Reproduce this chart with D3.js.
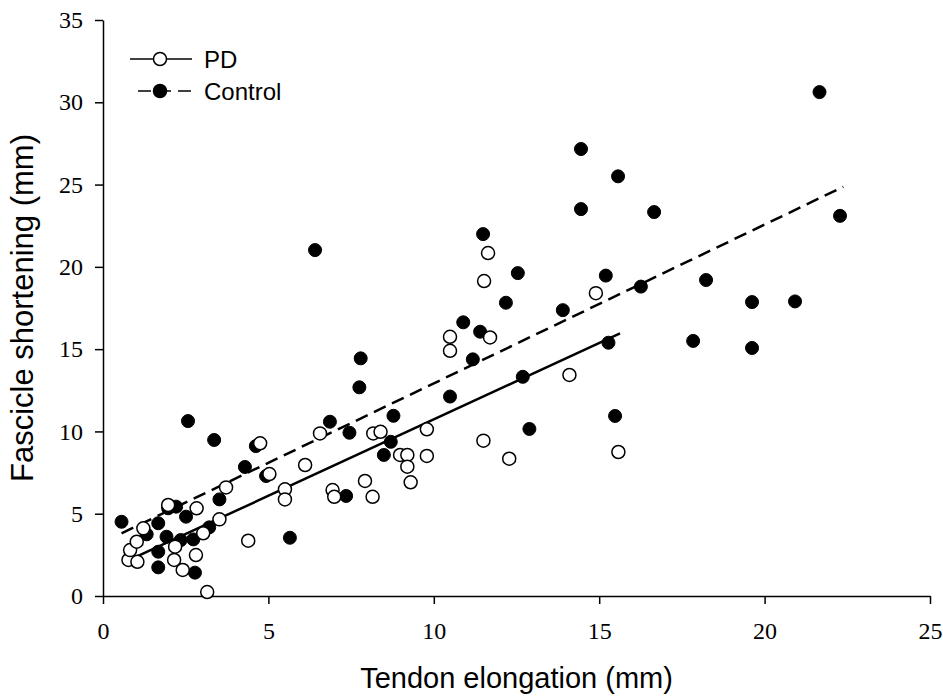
<!DOCTYPE html>
<html>
<head>
<meta charset="utf-8">
<script src="https://cdn.jsdelivr.net/npm/d3@7"></script>
<style>
  body { margin: 0; background: #fff; }
  svg { display: block; }
</style>
</head>
<body>
<div id="chart"></div>
<script>
// PD group (open circles): [tendon elongation, fascicle shortening]
const pdPoints = [
  [0.77, 2.19], [0.82, 2.79], [1.04, 2.08], [1.02, 3.3], [1.22, 4.11],
  [1.97, 5.53], [2.83, 5.33], [2.18, 3.0], [2.15, 2.19], [2.41, 1.58],
  [2.81, 2.49], [3.03, 3.81], [3.52, 4.66], [3.72, 6.6], [4.39, 3.36],
  [3.15, 0.24], [4.75, 9.28], [5.03, 7.41], [5.5, 6.48], [5.5, 5.87],
  [6.11, 7.96], [6.56, 9.88], [6.94, 6.44], [6.99, 6.03], [7.92, 6.99],
  [8.15, 6.03], [8.17, 9.88], [8.39, 9.98], [8.98, 8.57], [9.2, 8.57],
  [9.2, 7.86], [9.3, 6.91], [9.79, 10.13], [9.79, 8.51], [10.49, 15.75],
  [10.49, 14.9], [11.52, 19.14], [11.64, 20.84], [11.7, 15.71], [11.5, 9.44],
  [12.28, 8.34], [14.1, 13.43], [14.9, 18.4], [15.58, 8.75]
];

// Control group (filled circles)
const controlPoints = [
  [0.56, 4.51], [1.32, 3.75], [1.67, 4.42], [1.92, 3.6], [1.97, 5.33],
  [2.21, 5.43], [2.51, 4.82], [2.35, 3.4], [2.73, 3.44], [1.67, 2.69],
  [1.67, 1.74], [2.78, 1.42], [3.21, 4.17], [3.52, 5.87], [2.57, 10.63],
  [3.36, 9.48], [4.29, 7.84], [4.62, 9.11], [4.93, 7.29], [5.65, 3.54],
  [6.41, 21.02], [6.86, 10.59], [7.35, 6.08], [7.45, 9.92], [7.75, 12.68],
  [7.79, 14.44], [8.49, 8.57], [8.7, 9.37], [8.78, 10.95], [10.49, 12.12],
  [10.89, 16.63], [11.18, 14.38], [11.4, 16.06], [11.49, 21.99], [12.18, 17.82],
  [12.54, 19.62], [12.69, 13.32], [12.89, 10.15], [13.9, 17.37], [14.45, 27.16],
  [14.45, 23.51], [15.2, 19.47], [15.28, 15.39], [15.48, 10.94], [15.57, 25.5],
  [16.26, 18.8], [16.66, 23.33], [17.84, 15.5], [18.23, 19.2], [19.62, 17.86],
  [19.62, 15.07], [20.92, 17.9], [21.66, 30.62], [22.28, 23.1]
];

// regression lines: [slope, intercept, xStart, xEnd]
const pdFit = [0.9285, 1.447, 0.8, 15.63];
const controlFit = [0.965, 3.27, 0.56, 22.38];

const seriesNames = ["PD", "Control"];
const xTicks = [0, 5, 10, 15, 20, 25];
const yTicks = [0, 5, 10, 15, 20, 25, 30, 35];

const width = 943, height = 697;
const margin = { top: 20, right: 13, bottom: 101, left: 103 };
const dashPattern = "13,7";

const svg = d3.select("#chart").append("svg")
  .attr("width", width)
  .attr("height", height);

const x = d3.scaleLinear().domain([0, 25]).range([margin.left, width - margin.right]);
const y = d3.scaleLinear().domain([0, 35]).range([height - margin.bottom, margin.top]);

// axes
const xAxis = svg.append("g")
  .attr("transform", `translate(0,${y(0)})`)
  .call(d3.axisBottom(x).tickValues(xTicks).tickSize(8).tickPadding(18).tickSizeOuter(0));

const yAxis = svg.append("g")
  .attr("transform", `translate(${x(0)},0)`)
  .call(d3.axisLeft(y).tickValues(yTicks).tickSize(8).tickPadding(12).tickSizeOuter(0));

[xAxis, yAxis].forEach((a) => {
  a.selectAll("path, line").attr("stroke", "#000").attr("stroke-width", 1.5);
  a.selectAll("text")
    .attr("fill", "#000")
    .style("font-family", "'Liberation Serif', 'Times New Roman', serif")
    .style("font-size", "24px");
});

// axis titles
svg.append("text")
  .attr("x", x(12.5))
  .attr("y", 688)
  .attr("text-anchor", "middle")
  .style("font-family", "'Liberation Sans', Arial, sans-serif")
  .style("font-size", "29px")
  .text("Tendon elongation (mm)");

svg.append("text")
  .attr("transform", `translate(33,${y(17.5)}) rotate(-90)`)
  .attr("text-anchor", "middle")
  .style("font-family", "'Liberation Sans', Arial, sans-serif")
  .style("font-size", "31px")
  .text("Fascicle shortening (mm)");

// regression lines
function fitLine(fit) {
  return [[fit[2], fit[0] * fit[2] + fit[1]], [fit[3], fit[0] * fit[3] + fit[1]]];
}
const line = d3.line().x((d) => x(d[0])).y((d) => y(d[1]));

svg.append("path")
  .attr("d", line(fitLine(controlFit)))
  .attr("fill", "none")
  .attr("stroke", "#000")
  .attr("stroke-width", 2.5)
  .attr("stroke-dasharray", dashPattern);

svg.append("path")
  .attr("d", line(fitLine(pdFit)))
  .attr("fill", "none")
  .attr("stroke", "#000")
  .attr("stroke-width", 2.5);

// points
const r = 6.5;
svg.append("g").selectAll("circle")
  .data(controlPoints)
  .enter()
  .append("circle")
  .attr("cx", (d) => x(d[0]))
  .attr("cy", (d) => y(d[1]))
  .attr("r", r)
  .attr("fill", "#000")
  .attr("stroke", "#000")
  .attr("stroke-width", 1);

svg.append("g").selectAll("circle")
  .data(pdPoints)
  .enter()
  .append("circle")
  .attr("cx", (d) => x(d[0]))
  .attr("cy", (d) => y(d[1]))
  .attr("r", r)
  .attr("fill", "#fff")
  .attr("stroke", "#000")
  .attr("stroke-width", 1.5);

// legend
const legend = svg.append("g");
const legendRows = [
  { name: seriesNames[0], y: 59, x1: 130, fill: "#fff", dash: null },
  { name: seriesNames[1], y: 91, x1: 138, fill: "#000", dash: dashPattern }
];
legendRows.forEach((row) => {
  legend.append("line")
    .attr("x1", row.x1).attr("x2", 192)
    .attr("y1", row.y).attr("y2", row.y)
    .attr("stroke", "#000")
    .attr("stroke-width", 1.5)
    .attr("stroke-dasharray", row.dash);
  legend.append("circle")
    .attr("cx", 160).attr("cy", row.y).attr("r", r)
    .attr("fill", row.fill)
    .attr("stroke", "#000")
    .attr("stroke-width", 1.5);
  legend.append("text")
    .attr("x", 204)
    .attr("y", row.y + 8.5)
    .style("font-family", "'Liberation Sans', Arial, sans-serif")
    .style("font-size", "24px")
    .text(row.name);
});
</script>
</body>
</html>
